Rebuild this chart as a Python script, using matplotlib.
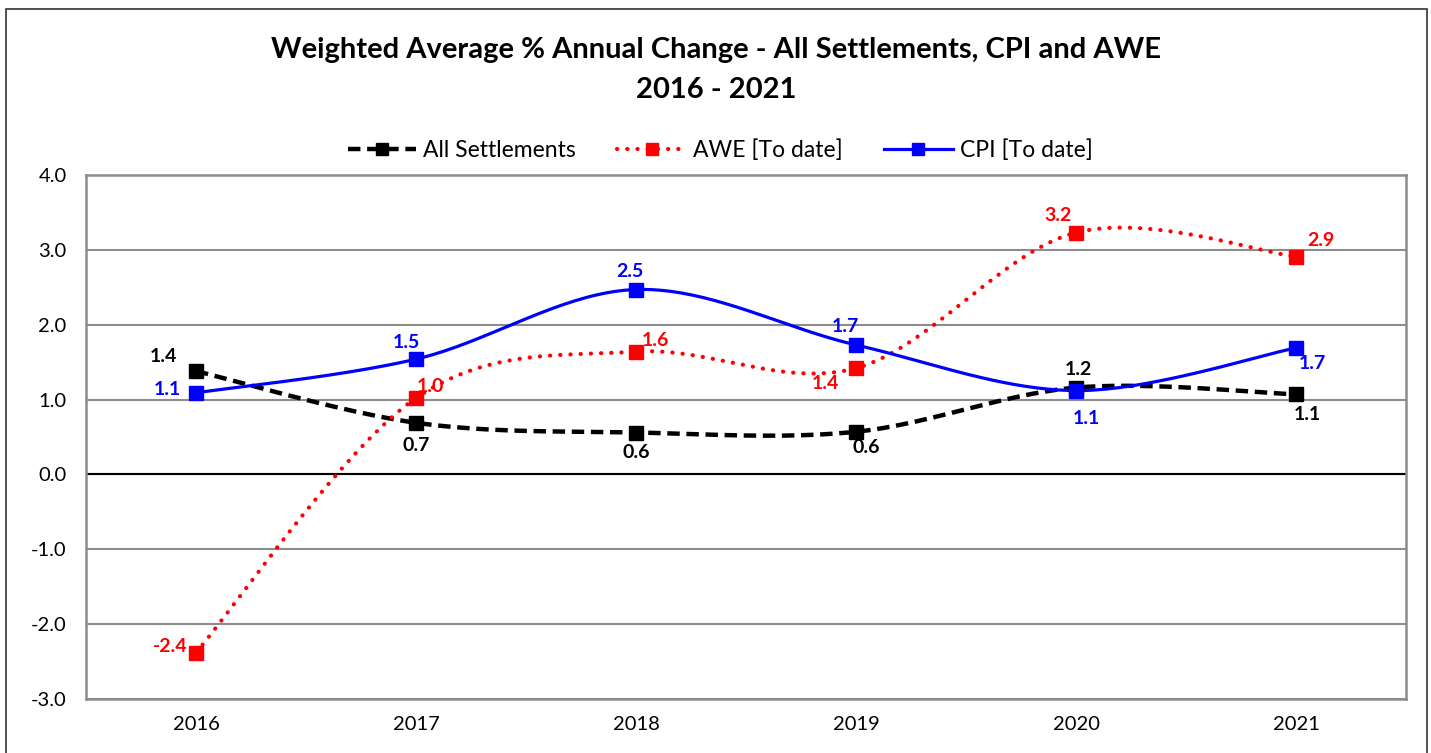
import numpy as np
import matplotlib.pyplot as plt
from matplotlib.patches import Rectangle

plt.rcParams['font.family'] = ['Lato', 'DejaVu Sans']

years = ['2016', '2017', '2018', '2019', '2020', '2021']
all_settlements = [1.38, 0.69, 0.56, 0.57, 1.16, 1.07]
awe = [-2.38, 1.02, 1.64, 1.42, 3.23, 2.91]
cpi = [1.09, 1.54, 2.47, 1.73, 1.12, 1.69]

# label offsets in pixels (dx, dy) for each point
off_all = [(-33, 15), (0, -23), (0, -20), (10, -16), (2, 18), (11, -20)]
off_awe = [(-26, 6), (14, 12), (19, 11), (-31, -15), (-18, 17), (25, 16)]
off_cpi = [(-29, 3), (-10, 17), (-6, 18), (-11, 18), (10, -28), (16, -16)]


def smooth(y, n=40):
    # Excel-like smoothed line: cubic bezier with Catmull-Rom control points
    y = np.asarray(y, float)
    x = np.arange(len(y), dtype=float)
    px = np.concatenate([[x[0]], x, [x[-1]]])
    py = np.concatenate([[y[0]], y, [y[-1]]])
    xs, ys = [], []
    t = np.linspace(0, 1, n)
    for i in range(len(y) - 1):
        p0 = np.array([px[i + 1], py[i + 1]])
        p3 = np.array([px[i + 2], py[i + 2]])
        c1 = p0 + (np.array([px[i + 2], py[i + 2]]) - np.array([px[i], py[i]])) / 6
        c2 = p3 - (np.array([px[i + 3], py[i + 3]]) - np.array([px[i + 1], py[i + 1]])) / 6
        b = ((1 - t) ** 3)[:, None] * p0 + (3 * (1 - t) ** 2 * t)[:, None] * c1 \
            + (3 * (1 - t) * t ** 2)[:, None] * c2 + (t ** 3)[:, None] * p3
        xs.extend(b[:, 0])
        ys.extend(b[:, 1])
    return np.array(xs), np.array(ys)


fig = plt.figure(figsize=(14.31, 7.53), dpi=100)
ax = fig.add_axes([86 / 1431, 1 - 699 / 753, 1320 / 1431, 524 / 753])

fig.patches.append(Rectangle((6 / 1431, -0.05), 1421 / 1431, 1.05 - 9 / 753,
                             transform=fig.transFigure, fill=False,
                             edgecolor='#333333', linewidth=1.2))

x = np.arange(len(years))

sx, sy = smooth(all_settlements)
ax.plot(sx, sy, color='black', linewidth=3.2, dashes=(2.8, 1.5), zorder=3)
ax.plot(x, all_settlements, 's', color='black', markersize=9.5, zorder=4)

sx, sy = smooth(awe)
ax.plot(sx, sy, color='red', linewidth=3.0, dashes=(0.05, 2.4),
        dash_capstyle='round', zorder=3)
ax.plot(x, awe, 's', color='red', markersize=9.5, zorder=4)

sx, sy = smooth(cpi)
ax.plot(sx, sy, color='blue', linewidth=2.3, zorder=3)
ax.plot(x, cpi, 's', color='blue', markersize=9.5, zorder=4)

for vals, offs, col in [(all_settlements, off_all, 'black'),
                        (awe, off_awe, 'red'),
                        (cpi, off_cpi, 'blue')]:
    for i, (v, o) in enumerate(zip(vals, offs)):
        ax.annotate(f'{v:.1f}', (i, v), xytext=o, textcoords='offset pixels',
                    ha='center', va='center', color=col, fontsize=14,
                    fontweight='bold', zorder=5)

ax.set_xlim(-0.5, len(years) - 0.5)
ax.set_ylim(-3, 4)
ax.set_yticks(np.arange(-3, 4.1, 1))
ax.set_yticklabels([f'{v:.1f}' for v in np.arange(-3, 4.1, 1)])
ax.set_xticks(x)
ax.set_xticklabels(years)
ax.tick_params(length=0, labelsize=14.5, pad=12)
ax.tick_params(axis='y', pad=14)
ax.grid(axis='y', color='#8c8c8c', linewidth=1.5)
ax.set_axisbelow(True)
ax.axhline(0, color='black', linewidth=1.5, zorder=2)
for s in ax.spines.values():
    s.set_color('#8c8c8c')
    s.set_linewidth(1.8)

# legend
h1, = ax.plot([], [], color='black', linewidth=3.2, dashes=(2.8, 1.5),
              marker='s', markersize=9)
h2, = ax.plot([], [], color='red', linewidth=3.0, dashes=(0.05, 2.4),
              dash_capstyle='round', marker='s', markersize=9)
h3, = ax.plot([], [], color='blue', linewidth=2.3, marker='s', markersize=9)
fig.legend([h1, h2, h3], ['All Settlements', 'AWE [To date]', 'CPI [To date]'],
           loc='center', bbox_to_anchor=(720 / 1431, 1 - 150 / 753), ncol=3,
           frameon=False, fontsize=16.5, handlelength=3.0, columnspacing=1.8,
           handletextpad=0.3)

fig.text(716 / 1431, 1 - 50 / 753,
         'Weighted Average % Annual Change - All Settlements, CPI and AWE',
         ha='center', va='center', fontsize=21, fontweight='bold')
fig.text(716 / 1431, 1 - 90 / 753, '2016 - 2021',
         ha='center', va='center', fontsize=21, fontweight='bold')

fig.savefig('out.png', dpi=100)
